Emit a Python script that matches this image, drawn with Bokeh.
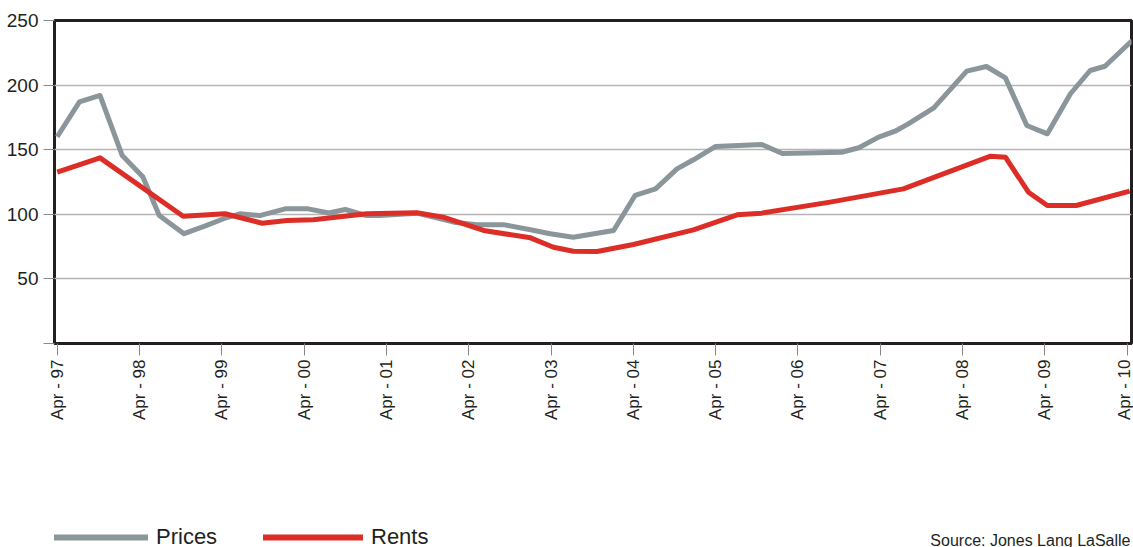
import math
from bokeh.plotting import figure
from bokeh.layouts import column
from bokeh.models import Range1d, FixedTicker, Legend, LegendItem, Label
from bokeh.embed import file_html
from bokeh.resources import INLINE

# ---- data (years since Apr-97, index values) ----
prices_t = [0.00, 0.27, 0.52, 0.79, 1.04, 1.24, 1.54, 1.80, 2.06, 2.22, 2.46, 2.77,
            3.05, 3.30, 3.50, 3.76, 3.92, 4.37, 4.82, 5.10, 5.42, 5.75, 5.99, 6.27,
            6.76, 7.02, 7.27, 7.53, 7.73, 8.00, 8.56, 8.81, 9.53, 9.74, 9.98, 10.18,
            10.34, 10.65, 11.05, 11.29, 11.52, 11.78, 12.03, 12.31, 12.55, 12.73, 13.06]
prices = [160, 187, 192, 145.5, 129, 99, 85, 91, 97.5, 100.4, 99, 104.2,
          104.2, 101, 103.7, 99, 99, 100.9, 93.9, 92, 92, 88, 85, 82.3,
          87.5, 114.6, 119.7, 135.2, 142.2, 152.5, 154, 147, 148, 151.5, 159.7, 164.3,
          170, 182.4, 210.8, 214.4, 205.6, 168.7, 162.3, 193.3, 211.3, 214.6, 234.5]

rents_t = [0.00, 0.52, 1.53, 2.04, 2.49, 2.79, 3.11, 3.76, 4.37, 4.69, 5.18, 5.75,
           6.03, 6.27, 6.56, 7.00, 7.73, 8.26, 8.56, 9.39, 10.28, 11.34, 11.52, 11.80,
           12.03, 12.38, 13.03]
rents = [132.6, 143.7, 98.5, 100.4, 93.1, 95.2, 95.7, 100.4, 101.2, 97.8, 87.5, 81.8,
         74.5, 71.4, 71.2, 76.6, 88, 99.6, 100.9, 109.4, 119.7, 145, 144.2, 117.1,
         106.8, 106.8, 117.9]

x_tick_pos = list(range(14))
x_tick_labels = ["Apr - 97", "Apr - 98", "Apr - 99", "Apr - 00", "Apr - 01", "Apr - 02",
                 "Apr - 03", "Apr - 04", "Apr - 05", "Apr - 06", "Apr - 07", "Apr - 08",
                 "Apr - 09", "Apr - 10"]
y_ticks = [0, 50, 100, 150, 200, 250]
series_names = ["Prices", "Rents"]
source_text = "Source: Jones Lang LaSalle"

GRAY = "#8b969b"
RED = "#dc2d27"
FONT = "Liberation Sans"
TXT = "#231f20"

p = figure(width=1133, height=500, output_backend="svg", toolbar_location=None,
           x_range=Range1d(-0.033, 13.052), y_range=Range1d(0, 250),
           min_border_left=54, min_border_right=2, min_border_top=20, min_border_bottom=157)
p.background_fill_color = "white"
p.border_fill_color = "white"
p.outline_line_color = TXT
p.outline_line_width = 3

r_prices = p.line(prices_t, prices, line_color=GRAY, line_width=5, line_join="round")
r_rents = p.line(rents_t, rents, line_color=RED, line_width=5, line_join="round")

# axes
xa = p.xaxis[0]
xa.ticker = FixedTicker(ticks=x_tick_pos)
xa.major_label_overrides = {i: s for i, s in zip(x_tick_pos, x_tick_labels)}
xa.major_label_orientation = math.pi / 2
xa.axis_line_color = None
xa.major_tick_in = 0
xa.major_tick_out = 12
xa.major_tick_line_color = "#8a8a8a"
xa.major_tick_line_width = 1
xa.minor_tick_line_color = None
xa.major_label_standoff = 4
xa.major_label_text_font = FONT
xa.major_label_text_font_size = "17px"
xa.major_label_text_color = TXT

ya = p.yaxis[0]
ya.ticker = FixedTicker(ticks=y_ticks)
ya.major_label_overrides = {0: ""}
ya.axis_line_color = None
ya.major_tick_in = 0
ya.major_tick_out = 11
ya.major_tick_line_color = "#8a8a8a"
ya.major_tick_line_width = 1
ya.minor_tick_line_color = None
ya.major_label_standoff = 5
ya.major_label_text_font = FONT
ya.major_label_text_font_size = "19px"
ya.major_label_text_color = TXT

p.xgrid.grid_line_color = None
p.ygrid.ticker = FixedTicker(ticks=[50, 100, 150, 200])
p.ygrid.grid_line_color = "#b5b5b5"
p.ygrid.grid_line_width = 1.5

# ---- footer strip with legend and source (its frame is aligned with the chart's, at x=54) ----
f = figure(width=1133, height=47, output_backend="svg", toolbar_location=None,
           x_range=Range1d(0, 1077), y_range=Range1d(0, 47),
           x_axis_location=None, y_axis_location=None,
           min_border=0, min_border_left=54, min_border_right=2,
           min_border_top=0, min_border_bottom=0)
f.grid.grid_line_color = None
f.outline_line_color = None
f.background_fill_color = "white"
f.border_fill_color = "white"

# legend key renderers reuse the series data; it lies far outside this strip's ranges
leg_prices = f.line(prices_t, [-v for v in prices], line_color=GRAY, line_width=6, line_cap="round")
leg_rents = f.line(rents_t, [-v for v in rents], line_color=RED, line_width=6, line_cap="round")


def make_legend(label, renderer, x):
    return Legend(items=[LegendItem(label=label, renderers=[renderer])],
                  location=(x, -3), orientation="horizontal",
                  glyph_width=100, glyph_height=18, label_height=18,
                  label_standoff=8, padding=0, margin=0, spacing=0,
                  border_line_color=None, background_fill_alpha=0,
                  label_text_font=FONT, label_text_font_size="22px",
                  label_text_color=TXT)


f.add_layout(make_legend(series_names[0], leg_prices, -6))
f.add_layout(make_legend(series_names[1], leg_rents, 209))

f.add_layout(Label(x=1076, y=7, x_units="screen", y_units="screen",
                   text=source_text, text_align="right",
                   text_baseline="alphabetic", text_font=FONT,
                   text_font_size="16px", text_color=TXT))

layout = column(p, f, spacing=0)
open("out.html", "w").write(file_html(layout, INLINE))
